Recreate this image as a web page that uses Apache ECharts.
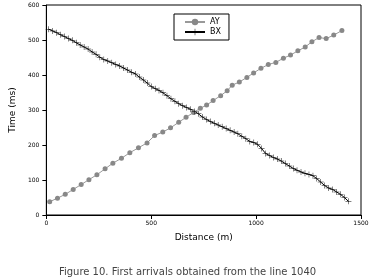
<!DOCTYPE html>
<html><head><meta charset="utf-8">
<script src="https://cdn.jsdelivr.net/npm/echarts@6/dist/echarts.min.js"></script>
<style>html,body{margin:0;padding:0;background:#fff}#c{width:375px;height:277px}</style>
</head><body><div id="c"></div>
<script>
const xTicks = [0, 500, 1000, 1500];
const yTicks = [0, 100, 200, 300, 400, 500, 600];
const ayDist = [16,53,90,128,166,203,241,280,317,358,398,439,480,516,555,592,631,666,702,734,764,795,831,862,886,920,956,988,1023,1058,1094,1130,1164,1199,1234,1266,1300,1334,1370,1409];
const ayTime = [38,48,59,73,87,101,115,132,148,162,178,192,206,227,237,249,265,279,293,305,314,327,341,355,371,380,393,406,419,430,436,448,457,469,480,495,507,504,514,527];
const bxDist = [11,30,49,67,86,105,124,143,161,180,199,218,237,255,274,293,312,331,349,368,387,406,425,443,462,481,500,519,537,556,575,594,613,631,650,669,688,707,725,744,763,782,801,819,838,857,876,895,913,932,951,970,989,1007,1026,1045,1064,1083,1101,1120,1139,1158,1177,1195,1214,1233,1252,1271,1289,1308,1327,1346,1365,1383,1402,1421,1440];
const bxTime = [531,526,521,515,510,504,499,492,486,480,474,466,459,451,444,440,435,430,426,420,414,408,403,394,386,377,367,361,356,349,341,332,325,318,312,307,302,296,289,280,273,267,262,257,252,247,242,237,232,225,218,210,207,202,190,176,170,164,160,154,147,140,133,128,123,119,116,112,104,94,84,77,73,66,59,50,39];

const chart = echarts.init(document.getElementById('c'));
const font = '"DejaVu Sans", sans-serif';
const plus = 'path://M0,4.6H10V5.4H0Z M4.6,0H5.4V10H4.6Z';
chart.setOption({
  animation: false,
  grid: {left: 41, right: 14, top: 5, bottom: 62, show: true, borderColor: '#000', borderWidth: 1},
  title: {text: 'Figure 10. First arrivals obtained from the line 1040', left: 'center', top: 262,
    textStyle: {fontFamily: font, fontSize: 10, fontWeight: 'normal', color: '#444'}},
  legend: {
    left: 174, top: 14, orient: 'vertical', itemWidth: 20, itemHeight: 8, itemGap: 2,
    padding: [4, 8, 4, 10], borderColor: '#000', borderWidth: 1,
    textStyle: {fontFamily: font, fontSize: 8, color: '#000'},
    data: ['AY', 'BX']
  },
  xAxis: {
    type: 'value', min: 0, max: 1500, interval: 500,
    name: 'Distance (m)', nameLocation: 'middle', nameGap: 18,
    nameTextStyle: {fontFamily: font, fontSize: 9, color: '#000'},
    axisLine: {lineStyle: {color: '#000'}},
    axisTick: {length: 4, lineStyle: {color: '#000'}},
    axisLabel: {fontFamily: font, fontSize: 6, color: '#000', margin: 5,
      formatter: v => xTicks.includes(v) ? String(v) : ''},
    splitLine: {show: false}
  },
  yAxis: {
    type: 'value', min: 0, max: 600, interval: 100,
    name: 'Time (ms)', nameLocation: 'middle', nameGap: 25,
    nameTextStyle: {fontFamily: font, fontSize: 9, color: '#000'},
    axisLine: {show: true, lineStyle: {color: '#000'}},
    axisTick: {show: true, length: 4, lineStyle: {color: '#000'}},
    axisLabel: {fontFamily: font, fontSize: 6, color: '#000', margin: 7,
      formatter: v => yTicks.includes(v) ? String(v) : ''},
    splitLine: {show: false}
  },
  series: [
    {name: 'AY', type: 'line', data: ayDist.map((d, i) => [d, ayTime[i]]),
      symbol: 'circle', symbolSize: 5,
      itemStyle: {color: '#888'}, lineStyle: {color: '#999', width: 1}},
    {name: 'BX', type: 'line', data: bxDist.map((d, i) => [d, bxTime[i]]),
      symbol: plus, symbolSize: 6,
      itemStyle: {color: '#000'}, lineStyle: {color: '#000', width: 1}}
  ]
});
</script></body></html>
